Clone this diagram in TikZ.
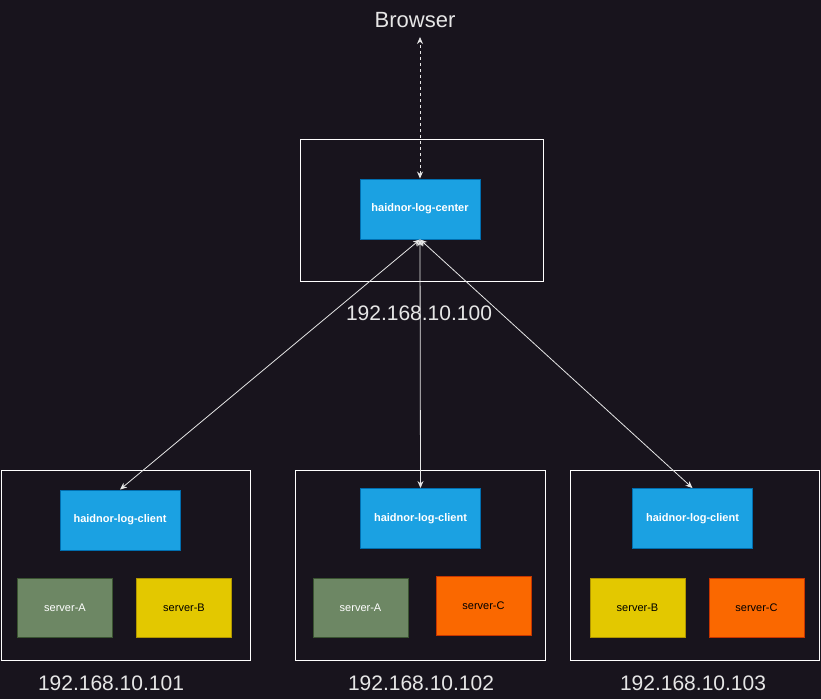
\documentclass[tikz,border=0pt]{standalone}
\usepackage{fontspec}
\setmainfont{Liberation Sans}
\usetikzlibrary{arrows.meta, positioning}
\definecolor{bgdark}{HTML}{18141D}
\definecolor{linegray}{HTML}{E6E6E6}
\definecolor{appblue}{HTML}{1BA1E2}
\definecolor{appedge}{HTML}{006EAF}
\definecolor{srvgreen}{HTML}{6D8764}
\definecolor{srvgreenedge}{HTML}{3A5431}
\definecolor{srvyellow}{HTML}{E3C800}
\definecolor{srvyellowedge}{HTML}{B09500}
\definecolor{srvorange}{HTML}{FA6800}
\definecolor{srvorangeedge}{HTML}{C73500}

\begin{document}
\begin{tikzpicture}[x=1pt, y=-1pt, >={Stealth[length=7pt,width=6pt]},
  host/.style={rectangle, draw=white, line width=0.9pt},
  app/.style={rectangle, fill=appblue, draw=appedge, line width=0.9pt, text=white,
    font=\bfseries\fontsize{11}{13}\selectfont, minimum width=120pt, minimum height=60pt},
  srv/.style={rectangle, line width=0.9pt, minimum width=95pt, minimum height=59pt,
    font=\fontsize{11}{13}\selectfont},
  srvA/.style={srv, fill=srvgreen, draw=srvgreenedge, text=white},
  srvB/.style={srv, fill=srvyellow, draw=srvyellowedge, text=black},
  srvC/.style={srv, fill=srvorange, draw=srvorangeedge, text=black},
  ip/.style={text=linegray, font=\fontsize{21}{24}\selectfont},
  link/.style={draw=linegray, line width=0.8pt, <->}]
\fill[bgdark] (0,0) rectangle (821,699);

% center host
\node [ip, font=\fontsize{22}{26}\selectfont] (browser) at (415,20) {Browser};
\coordinate (browserEnd) at (420,37);
\node [host, minimum width=243pt, minimum height=142pt] (hostCenter) at (421.5,210) {};
\node [app] (center) at (420,209) {haidnor-log-center};
\node [ip] (ip100) at (419,313) {192.168.10.100};
\draw[link, dash pattern=on 3pt off 3pt] (center.north) -- (browserEnd);

% client hosts
\node [host, minimum width=249pt, minimum height=190pt] (host1) at (125.5,565) {};
\node [app] (client1) at (120,520) {haidnor-log-client};
\node [srvA] (srv1A) at (65,607.5) {server-A};
\node [srvB] (srv1B) at (184,607.5) {server-B};
\node [ip] (ip101) at (111,683) {192.168.10.101};

\node [host, minimum width=250pt, minimum height=190pt] (host2) at (420,565) {};
\node [app] (client2) at (420.5,518.5) {haidnor-log-client};
\node [srvA] (srv2A) at (360.5,607.5) {server-A};
\node [srvC] (srv2C) at (483.5,605.5) {server-C};
\node [ip] (ip102) at (421,683) {192.168.10.102};

\node [host, minimum width=249pt, minimum height=190pt] (host3) at (695,565) {};
\node [app] (client3) at (692.5,518.5) {haidnor-log-client};
\node [srvB] (srv3B) at (637.5,607.5) {server-B};
\node [srvC] (srv3C) at (756.5,607.5) {server-C};
\node [ip] (ip103) at (693,683) {192.168.10.103};

% links
\draw[link] (center.south) -- (client1.north);
\draw[link] (center.south) -- (client2.north);
\draw[link] (center.south) -- (client3.north);
\end{tikzpicture}
\end{document}
